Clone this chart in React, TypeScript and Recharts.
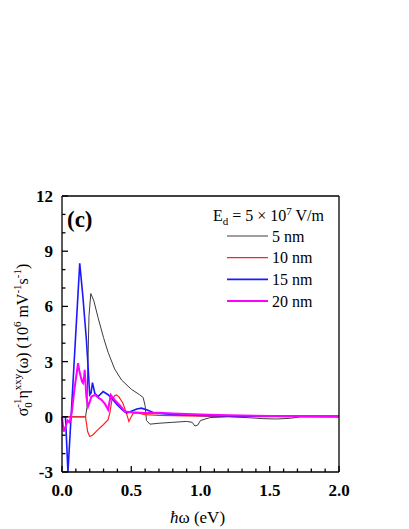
import React from 'react';
import { LineChart, Line, XAxis, YAxis, Label } from 'recharts';

// ---- data ----
const x5nm = [0, 0.17, 0.18, 0.195, 0.208, 0.23, 0.26, 0.3, 0.333, 0.38, 0.43, 0.5, 0.56, 0.586, 0.6, 0.61, 0.635, 0.7, 0.8, 0.9, 0.94, 0.96, 0.98, 1.0, 1.07, 1.2, 1.35, 1.45, 1.55, 1.65, 1.72, 1.8, 2.0];
const y5nm = [0, 0, 0.5, 5.5, 6.7, 6.3, 5.4, 4.3, 3.5, 2.6, 2.0, 1.5, 1.2, 1.05, 0.6, -0.2, -0.4, -0.35, -0.3, -0.25, -0.3, -0.5, -0.45, -0.2, -0.04, 0, -0.05, -0.1, -0.12, -0.08, 0, 0, 0];

const x10nm = [0, 0.17, 0.185, 0.2, 0.22, 0.26, 0.3, 0.333, 0.345, 0.36, 0.38, 0.393, 0.41, 0.44, 0.465, 0.483, 0.5, 0.514, 0.55, 0.6, 0.7, 0.8, 0.9, 1.0, 1.2, 1.5, 2.0];
const y10nm = [0, 0, -0.8, -1.07, -1.0, -0.7, -0.42, -0.16, 0.2, 0.9, 1.15, 1.19, 1.1, 0.74, 0.2, -0.25, 0.0, 0.2, 0.2, 0.12, 0.08, 0.06, 0.05, 0.04, 0.02, 0.01, 0];

const x15nm = [0, 0.025, 0.043, 0.128, 0.15, 0.176, 0.19, 0.2, 0.21, 0.22, 0.237, 0.26, 0.297, 0.333, 0.369, 0.4, 0.44, 0.466, 0.5, 0.54, 0.574, 0.62, 0.67, 0.75, 0.85, 1.0, 1.2, 1.5, 2.0];
const y15nm = [0, 0, -3, 8.34, 6.6, 4.2, 2.5, 1.2, 1.3, 1.86, 1.28, 1.1, 1.37, 1.2, 0.92, 0.65, 0.35, 0.2, 0.3, 0.42, 0.47, 0.35, 0.2, 0.15, 0.12, 0.08, 0.05, 0.03, 0.02];

const x20nm = [0, 0.012, 0.025, 0.04, 0.055, 0.07, 0.09, 0.116, 0.125, 0.135, 0.145, 0.152, 0.16, 0.164, 0.17, 0.176, 0.188, 0.2, 0.212, 0.24, 0.26, 0.285, 0.31, 0.333, 0.352, 0.38, 0.42, 0.454, 0.5, 0.6, 0.7, 0.8, 1.0, 1.2, 1.5, 2.0];
const y20nm = [0, -0.8, -0.55, -0.2, -0.3, 0.2, 1.5, 2.91, 2.5, 2.19, 1.9, 1.83, 2.2, 2.55, 1.8, 1.1, 0.56, 0.8, 1.1, 1.19, 1.05, 0.92, 0.7, 0.38, 1.19, 0.92, 0.6, 0.29, 0.25, 0.2, 0.22, 0.18, 0.12, 0.08, 0.05, 0.05];

const seriesNames = ['5 nm', '10 nm', '15 nm', '20 nm'];
const seriesColors = ['#3c3c3c', '#ff2020', '#1a1aff', '#ff00ff'];
const seriesWidths = [1, 1.2, 1.6, 2];

const xTicks = [0, 0.1, 0.2, 0.3, 0.4, 0.5, 0.6, 0.7, 0.8, 0.9, 1.0, 1.1, 1.2, 1.3, 1.4, 1.5, 1.6, 1.7, 1.8, 1.9, 2.0];
const yTicks = [-3, -2, -1, 0, 1, 2, 3, 4, 5, 6, 7, 8, 9, 10, 11, 12];

const build = (xs: number[], ys: number[]) => xs.map((x, i) => ({ x, y: ys[i] }));
const seriesData = [build(x5nm, y5nm), build(x10nm, y10nm), build(x15nm, y15nm), build(x20nm, y20nm)];

const FONT = "'Liberation Serif', 'Times New Roman', serif";
const serif = { fontFamily: FONT };
const isMajorX = (v: number) => Math.abs(v * 2 - Math.round(v * 2)) < 1e-6;
const isMajorY = (v: number) => Math.abs(v % 3) < 1e-6;

const BottomTick = (p: any) => {
  const { x, y, payload } = p;
  const v = payload.value;
  const major = isMajorX(v);
  return (
    <g>
      <path d={`M${x},${y}V${y - (major ? 6 : 3.5)}`} stroke="#000" strokeWidth={1.3} fill="none" />
      {major && (
        <text x={x} y={y + 24} textAnchor="middle" style={serif} fontWeight="bold" fontSize={17} fill="#000">
          {v.toFixed(1)}
        </text>
      )}
    </g>
  );
};

const TopTick = (p: any) => {
  const { x, y, payload } = p;
  const major = isMajorX(payload.value);
  return <path d={`M${x},${y}V${y + (major ? 6 : 3.5)}`} stroke="#000" strokeWidth={1.3} fill="none" />;
};

const LeftTick = (p: any) => {
  const { x, y, payload } = p;
  const v = payload.value;
  const major = isMajorY(v);
  return (
    <g>
      <path d={`M${x},${y}H${x + (major ? 6 : 3.5)}`} stroke="#000" strokeWidth={1.3} fill="none" />
      {major && (
        <text x={x - 9} y={y + 6} textAnchor="end" style={serif} fontWeight="bold" fontSize={17} fill="#000">
          {String(v)}
        </text>
      )}
    </g>
  );
};

const RightTick = (p: any) => {
  const { x, y, payload } = p;
  const major = isMajorY(payload.value);
  return <path d={`M${x},${y}H${x + (major ? 5 : 3)}`} stroke="#000" strokeWidth={1.3} fill="none" />;
};

// x-axis title
const XTitle = (p: any) => {
  const vb = p.viewBox;
  return (
    <text x={vb.x + vb.width / 2 - 3} y={vb.y + 51} textAnchor="middle" style={serif} fontSize={17} fill="#000">
      <tspan fontStyle="italic">ħ</tspan>ω (eV)
    </text>
  );
};

// y-axis title
const YTitle = (p: any) => {
  const vb = p.viewBox;
  const cx = vb.x + 28;
  const cy = vb.y + vb.height / 2 + 6;
  return (
    <text transform={`translate(${cx},${cy}) rotate(-90)`} textAnchor="middle" style={serif} fontSize={16} fill="#000">
      σ<tspan fontSize={11} dy={4}>0</tspan>
      <tspan fontSize={11} dx={-5.5} dy={-11}>-1</tspan>
      <tspan dy={7}>η</tspan>
      <tspan fontSize={11} dy={-7}>xxy</tspan>
      <tspan dy={7}>(ω) (10</tspan>
      <tspan fontSize={11} dy={-7}>6</tspan>
      <tspan dy={7}> mV</tspan>
      <tspan fontSize={11} dy={-7}>-1</tspan>
      <tspan dy={7}>s</tspan>
      <tspan fontSize={11} dy={-7}>-1</tspan>
      <tspan dy={7}>)</tspan>
    </text>
  );
};

// panel tag + legend, placed relative to the plot's top edge (top axis viewBox)
const TopAnnot = (p: any) => {
  const vb = p.viewBox;
  const left = vb.x;
  const top = vb.y + vb.height;
  return (
    <g>
      <text x={left + 5} y={top + 31} style={serif} fontWeight="bold" fontSize={23} fill="#000">(c)</text>
      <text x={left + 151} y={top + 25} style={serif} fontSize={16} fill="#000">
        E<tspan fontSize={11} dy={4}>d</tspan>
        <tspan dy={-4}> = 5 × 10</tspan>
        <tspan fontSize={11} dy={-6}>7</tspan>
        <tspan dy={6}> V/m</tspan>
      </text>
      {seriesNames.map((n, i) => {
        const cy = top + 40 + i * 21.7;
        return (
          <g key={n}>
            <line x1={left + 165} x2={left + 206} y1={cy} y2={cy} stroke={seriesColors[i]} strokeWidth={seriesWidths[i]} />
            <text x={left + 210} y={cy + 5.5} style={serif} fontSize={16} fill="#000">{n}</text>
          </g>
        );
      })}
    </g>
  );
};

export default function App() {
  return (
    <div style={{ position: 'absolute', left: 0, top: 0, width: 409, height: 529, background: '#fff' }}>
      <LineChart width={409} height={529} margin={{ top: 176, right: 50, bottom: 0, left: 0 }}>
        <XAxis xAxisId="b" type="number" dataKey="x" domain={[0, 2]} ticks={xTicks} interval={0}
          height={57} tickSize={0} tickMargin={0} stroke="#000" strokeWidth={1.3} tick={<BottomTick />}>
          <Label content={<XTitle />} />
        </XAxis>
        <XAxis xAxisId="t" orientation="top" type="number" dataKey="x" domain={[0, 2]} ticks={xTicks} interval={0}
          height={20} tickSize={0} tickMargin={0} stroke="#000" strokeWidth={1.3} tick={<TopTick />}>
          <Label content={<TopAnnot />} />
        </XAxis>
        <YAxis yAxisId="l" type="number" domain={[-3, 12]} ticks={yTicks} interval={0}
          width={62} tickSize={0} tickMargin={0} stroke="#000" strokeWidth={1.3} tick={<LeftTick />}>
          <Label content={<YTitle />} />
        </YAxis>
        <YAxis yAxisId="r" orientation="right" type="number" domain={[-3, 12]} ticks={yTicks} interval={0}
          width={20} tickSize={0} tickMargin={0} stroke="#000" strokeWidth={1.3} tick={<RightTick />} />
        {seriesData.map((d, i) => (
          <Line key={seriesNames[i]} xAxisId="b" yAxisId="l" data={d} dataKey="y" type="linear"
            stroke={seriesColors[i]} strokeWidth={seriesWidths[i]} dot={false} activeDot={false}
            isAnimationActive={false} />
        ))}
      </LineChart>
    </div>
  );
}
